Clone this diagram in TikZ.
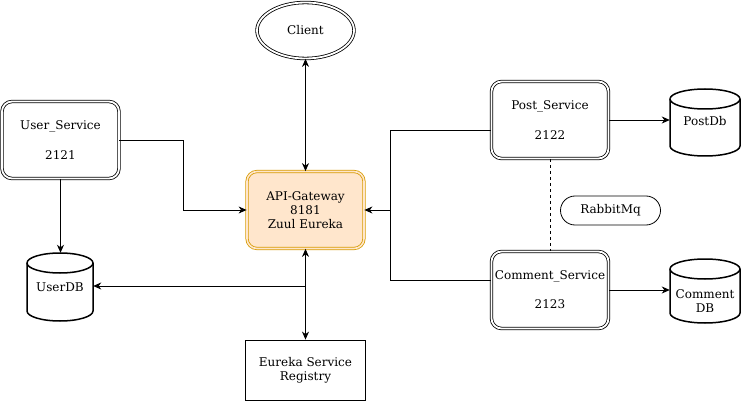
\documentclass[tikz,border=0pt]{standalone}
\usepackage{fontspec}
\setmainfont{DejaVu Serif}
\usetikzlibrary{arrows.meta,shapes.geometric}
\definecolor{apifill}{HTML}{FFE6CC}
\definecolor{apiline}{HTML}{D79B00}
\newcommand{\dbcyl}[8]{% name, x0, y0, x1, y1, ry, text y, text
  \pgfmathsetmacro\dbcx{(#2+#4)/2}%
  \pgfmathsetmacro\dbcy{(#3+#5)/2}%
  \pgfmathsetmacro\dbrx{(#4-#2)/2}%
  \pgfmathsetmacro\dbw{#4-#2}%
  \pgfmathsetmacro\dbh{#5-#3}%
  \draw[dbline] (#2,#3+#6) -- (#2,#5-#6)
    arc[start angle=180,end angle=360,x radius=\dbrx pt,y radius=#6 pt]
    -- (#4,#3+#6)
    arc[start angle=0,end angle=180,x radius=\dbrx pt,y radius=#6 pt] -- cycle;
  \draw[dbline] (#2,#3+#6)
    arc[start angle=180,end angle=360,x radius=\dbrx pt,y radius=#6 pt];
  \node[minimum width=\dbw pt, minimum height=\dbh pt] (#1) at (\dbcx,\dbcy) {};
  \node (#1-text) at (\dbcx,#7) {#8};
}
\begin{document}
\begin{tikzpicture}[x=1pt,y=-1pt,
  every node/.style={font=\fontsize{12}{14}\selectfont, align=center, inner sep=0pt},
  dblbox/.style={draw, line width=0.8pt, double=white, double distance=1.8pt,
    rounded corners=10pt, minimum width=117pt, minimum height=77pt},
  apibox/.style={draw=apiline, line width=0.8pt, double=apifill, double distance=1.6pt,
    fill=apifill, rounded corners=10pt, minimum width=117pt, minimum height=77pt},
  plainbox/.style={draw, line width=0.8pt, minimum width=120pt, minimum height=60pt},
  pill/.style={draw, line width=0.8pt, rounded corners=14.5pt, minimum width=100pt, minimum height=29pt},
  dbline/.style={draw, line width=1.5pt, fill=white},
  arr/.style={line width=0.9pt, -{Stealth[length=8pt,width=7pt,inset=2.5pt]}},
  biarr/.style={line width=0.9pt, {Stealth[length=8pt,width=7pt,inset=2.5pt]}-{Stealth[length=8pt,width=7pt,inset=2.5pt]}},
  conn/.style={line width=0.9pt},
  dashconn/.style={line width=0.9pt, dashed, dash pattern=on 3pt off 3pt}
]
\useasboundingbox (0,0) rectangle (742,401);

% nodes
\node[ellipse, draw, line width=0.8pt, double=white, double distance=1.8pt,
  minimum width=97pt, minimum height=56pt] (client) at (305.5,30.5) {Client};
\node[dblbox] (user) at (60.5,140) {User\_Service\\[16pt]2121};
\node[apibox] (api) at (305.5,210) {API-Gateway\\8181\\Zuul Eureka};
\node[plainbox] (eureka) at (305.5,370) {Eureka Service\\Registry};
\node[dblbox] (post) at (550,120) {Post\_Service\\[16pt]2122};
\node[dblbox] (comment) at (550,290) {Comment\_Service\\[15pt]2123};
\node[pill] (rabbit) at (610.5,210.5) {RabbitMq};

\dbcyl{userdb}{27}{253}{93}{321}{10}{287}{UserDB}
\dbcyl{postdb}{670}{89}{740}{156}{10}{121}{PostDb}
\dbcyl{commentdb}{670}{259}{740}{323}{10}{301}{Comment\\DB}

\coordinate (xu) at (183,0);
\coordinate (xr) at (390,0);
\coordinate (junction) at (305.5,286);

% connectors
\draw[biarr] (client.south -| api.north) -- (api.north);
\draw[biarr] (api.south) -- (eureka.north);
\draw[arr] (junction) -- (junction -| userdb.east);
\draw[arr] (user.south) -- (user.south |- userdb.north);
\draw[arr] (user.east) -- (user.east -| xu) |- (api.west);
\draw[arr] ([yshift=-10pt]post.west) -- ([yshift=-10pt]post.west -| xr) |- (api.east);
\draw[conn] ([yshift=10pt]comment.west) -| (xr |- api.east);
\draw[arr] (post.east) -- (post.east -| postdb.west);
\draw[arr] (comment.east) -- (comment.east -| commentdb.west);
\draw[dashconn] (post.south) -- (comment.north);
\end{tikzpicture}
\end{document}
